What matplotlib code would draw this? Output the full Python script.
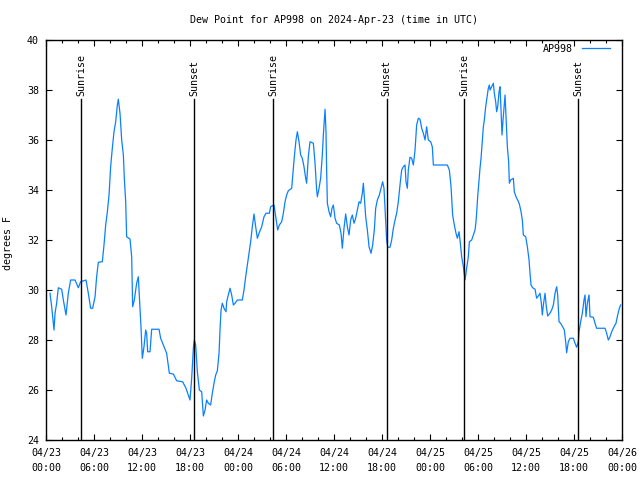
import matplotlib
matplotlib.use("Agg")
import matplotlib.pyplot as plt
from matplotlib.ticker import MultipleLocator, FixedLocator

# hours since 2024-04-23 00:00 UTC
hours = [
    0.5, 0.71, 0.92, 1.0, 1.13, 1.33, 1.54, 1.96, 2.17, 2.5, 2.79, 3.08, 3.63, 4.04, 4.33,
    5.0, 5.29, 5.58, 5.83, 6.13, 6.33, 6.54, 7.04, 7.25, 7.46, 7.67, 7.88, 8.08, 8.29, 8.5,
    8.71, 8.92, 9.04, 9.25, 9.46, 9.67, 9.79, 9.96, 10.08, 10.5, 10.71, 10.79, 10.83, 11.04,
    11.33, 11.54, 11.75, 11.88, 12.04, 12.25, 12.46, 12.58, 12.71, 13.0, 13.21, 14.13, 14.33,
    14.67, 15.08, 15.42, 15.92, 16.33, 17.08, 17.5, 17.79, 18.0, 18.21, 18.42, 18.54, 18.71,
    18.92, 19.17, 19.46, 19.67, 19.88, 20.08, 20.29, 20.58, 20.79, 21.0, 21.21, 21.42, 21.63,
    21.75, 21.88, 22.04, 22.25, 22.5, 22.58, 22.79, 23.0, 23.21, 23.42, 23.63, 23.92, 24.54,
    24.75, 24.96, 25.17, 25.38, 25.58, 25.79, 26.0, 26.21, 26.42, 26.63, 26.96, 27.25, 27.5,
    27.92, 28.08, 28.5, 28.71, 28.96, 29.17, 29.46, 29.67, 29.88, 30.08, 30.29, 30.71, 30.83,
    31.04, 31.25, 31.42, 31.63, 31.83, 32.04, 32.25, 32.46, 32.58, 32.79, 33.0, 33.42, 33.63,
    33.83, 33.92, 34.13, 34.33, 34.54, 34.67, 34.88, 35.0, 35.08, 35.17, 35.38, 35.58, 35.75,
    35.92, 36.13, 36.33, 36.67, 36.88, 37.04, 37.25, 37.46, 37.67, 37.88, 38.08, 38.29, 38.5,
    38.71, 38.92, 39.13, 39.33, 39.54, 39.67, 39.79, 39.96, 40.17, 40.38, 40.63, 40.83, 41.04,
    41.21, 41.42, 41.67, 41.88, 42.08, 42.25, 42.46, 42.58, 42.71, 43.0, 43.21, 43.42, 43.63,
    43.83, 44.04, 44.25, 44.46, 44.67, 44.88, 45.0, 45.17, 45.29, 45.5, 45.71, 45.92, 46.13,
    46.33, 46.54, 46.75, 46.96, 47.17, 47.38, 47.58, 47.79, 48.08, 48.29, 48.42, 50.17, 50.42,
    50.63, 50.83, 51.04, 51.25, 51.42, 51.63, 51.75, 51.96, 52.17, 52.38, 52.58, 52.79, 52.92,
    53.21, 53.42, 53.63, 53.75, 53.83, 53.96, 54.13, 54.25, 54.38, 54.54, 54.67, 54.79, 54.96,
    55.08, 55.29, 55.42, 55.5, 55.71, 55.92, 56.04, 56.21, 56.33, 56.46, 56.63, 56.75, 56.88,
    57.0, 57.13, 57.25, 57.38, 57.5, 57.67, 57.83, 57.92, 58.08, 58.42, 58.54, 58.75, 58.96,
    59.17, 59.38, 59.54, 59.67, 59.96, 60.17, 60.38, 60.5, 60.63, 60.83, 61.13, 61.33, 61.54,
    61.75, 61.92, 62.04, 62.17, 62.38, 62.54, 62.71, 63.0, 63.21, 63.42, 63.63, 63.83, 63.96,
    64.13, 64.33, 64.58, 64.79, 64.96, 65.08, 65.29, 65.5, 65.92, 66.13, 66.33, 66.54, 66.63,
    66.83, 67.04, 67.25, 67.38, 67.5, 67.67, 67.88, 68.0, 68.42, 68.63, 68.83, 69.88, 70.08,
    70.29, 70.5, 70.71, 71.0, 71.25, 71.46, 71.67, 71.83,
]

dew_point = [
    29.87, 29.33, 28.67, 28.4, 29.07, 29.47, 30.09, 30.03, 29.6, 29.0, 29.87, 30.4, 30.4, 30.09, 30.33,
    30.4, 29.87, 29.27, 29.27, 29.73, 30.53, 31.11, 31.13, 31.8, 32.6, 33.13, 33.8, 34.93, 35.67, 36.33,
    36.73, 37.4, 37.63, 37.07, 36.0, 35.4, 34.47, 33.53, 32.13, 32.04, 31.33, 30.0, 29.33, 29.6,
    30.27, 30.53, 29.27, 28.47, 27.27, 27.73, 28.4, 28.27, 27.53, 27.53, 28.43, 28.43, 28.07,
    27.8, 27.47, 26.67, 26.64, 26.37, 26.33, 26.07, 25.8, 25.6, 26.47, 27.67, 28.0, 27.8,
    26.73, 26.0, 25.93, 24.96, 25.2, 25.6, 25.47, 25.4, 25.87, 26.27, 26.6, 26.77, 27.47,
    28.4, 29.2, 29.47, 29.27, 29.13, 29.53, 29.8, 30.07, 29.8, 29.4, 29.47, 29.6, 29.6,
    30.0, 30.53, 31.0, 31.47, 31.93, 32.53, 33.04, 32.53, 32.07, 32.27, 32.53, 32.93, 33.07,
    33.07, 33.33, 33.4, 32.93, 32.4, 32.6, 32.73, 33.07, 33.53, 33.8, 33.97, 34.07, 34.53,
    35.33, 36.0, 36.33, 35.93, 35.4, 35.27, 34.93, 34.47, 34.27, 35.33, 35.93, 35.87, 35.07,
    34.0, 33.73, 34.07, 34.47, 35.4, 36.2, 37.23, 36.33, 34.8, 33.47, 33.13, 32.93, 33.27,
    33.4, 32.87, 32.67, 32.6, 32.27, 31.67, 32.47, 33.04, 32.53, 32.2, 32.8, 33.0, 32.67,
    32.87, 33.2, 33.53, 33.47, 33.87, 34.27, 33.73, 32.93, 32.4, 31.73, 31.47, 31.8, 32.4,
    33.27, 33.6, 33.8, 34.07, 34.33, 34.07, 32.8, 32.0, 31.71, 31.71, 32.0, 32.47, 32.8,
    33.07, 33.53, 34.2, 34.8, 34.93, 35.0, 34.33, 34.07, 34.8, 35.31, 35.27, 35.0, 35.6,
    36.6, 36.87, 36.83, 36.47, 36.27, 36.0, 36.53, 36.0, 35.93, 35.73, 35.0, 35.0, 34.8,
    34.13, 33.0, 32.6, 32.27, 32.07, 32.33, 32.0, 31.33, 30.93, 30.4, 30.87, 31.33, 31.93,
    32.0, 32.2, 32.4, 32.73, 33.07, 33.73, 34.4, 34.87, 35.27, 36.0, 36.53, 36.8, 37.33,
    37.6, 38.07, 38.2, 38.0, 38.13, 38.27, 37.87, 37.53, 37.13, 37.33, 37.93, 38.13, 37.2,
    36.2, 36.8, 37.27, 37.8, 36.93, 35.73, 35.13, 34.27, 34.4, 34.47, 33.93, 33.73, 33.6,
    33.44, 33.13, 32.8, 32.2, 32.13, 31.73, 31.2, 30.67, 30.2, 30.09, 30.03, 29.67, 29.76,
    29.87, 29.47, 29.0, 29.4, 29.87, 29.33, 28.96, 29.07, 29.2, 29.4, 29.87, 30.13, 29.8,
    28.73, 28.67, 28.53, 28.4, 27.93, 27.49, 27.93, 28.07, 28.07, 27.87, 27.71, 27.93, 28.33,
    28.73, 29.07, 29.6, 29.8, 28.93, 29.47, 29.8, 28.93, 28.91, 28.67, 28.47, 28.47, 28.27,
    28.0, 28.13, 28.33, 28.53, 28.67, 29.0, 29.27, 29.4,
]

sun_event_hours = [4.42, 18.54, 28.42, 42.58, 52.29, 66.54]
sun_event_labels = ["Sunrise", "Sunset", "Sunrise", "Sunset", "Sunrise", "Sunset"]

x_tick_hours = [0, 6, 12, 18, 24, 30, 36, 42, 48, 54, 60, 66, 72]
x_tick_labels = ["04/23\n00:00", "04/23\n06:00", "04/23\n12:00", "04/23\n18:00",
                 "04/24\n00:00", "04/24\n06:00", "04/24\n12:00", "04/24\n18:00",
                 "04/25\n00:00", "04/25\n06:00", "04/25\n12:00", "04/25\n18:00",
                 "04/26\n00:00"]
y_ticks = [24, 26, 28, 30, 32, 34, 36, 38, 40]

FONT = "DejaVu Sans Mono"
FS = 7.2
plt.rcParams["font.family"] = FONT

fig = plt.figure(figsize=(6.4, 4.8), dpi=100)
ax = fig.add_axes([46/640, 40/480, 576/640, 400/480])

line_color = "#0a80ff"
ax.plot(hours, dew_point, color=line_color, lw=0.9, label="AP998")

ax.set_xlim(0, 72)
ax.set_ylim(24, 40)

for h, lab in zip(sun_event_hours, sun_event_labels):
    ax.plot([h, h], [24, 37.63], color="black", lw=1.0)
    ax.text(h, 37.75, lab, rotation=90, ha="center", va="bottom",
            fontsize=FS, family=FONT)

ax.xaxis.set_major_locator(FixedLocator(x_tick_hours))
ax.set_xticklabels(x_tick_labels)
ax.xaxis.set_minor_locator(MultipleLocator(2))
ax.set_yticks(y_ticks)

ax.tick_params(axis="both", which="major", direction="in", length=4, width=0.8,
               top=True, right=True, labelsize=FS, pad=5)
ax.tick_params(axis="both", which="minor", direction="in", length=2, width=0.8,
               top=True, right=True)
ax.tick_params(axis="x", which="major", pad=6)
for lbl in ax.get_xticklabels():
    lbl.set_linespacing(1.6)

for sp in ax.spines.values():
    sp.set_linewidth(1.0)

ax.set_title("Dew Point for AP998 on 2024-Apr-23 (time in UTC)", fontsize=FS, pad=12)
fig.text(8/640, 1 - 243/480, "degrees F", rotation=90, ha="center", va="center", fontsize=FS)

ax.legend(loc="upper right", bbox_to_anchor=(1 - 12/576, 1 - 4/400), frameon=False,
          markerfirst=False, fontsize=FS, handlelength=2.8, handletextpad=0.9,
          borderaxespad=0.0, borderpad=0.0)

fig.savefig("out.png", dpi=100)
